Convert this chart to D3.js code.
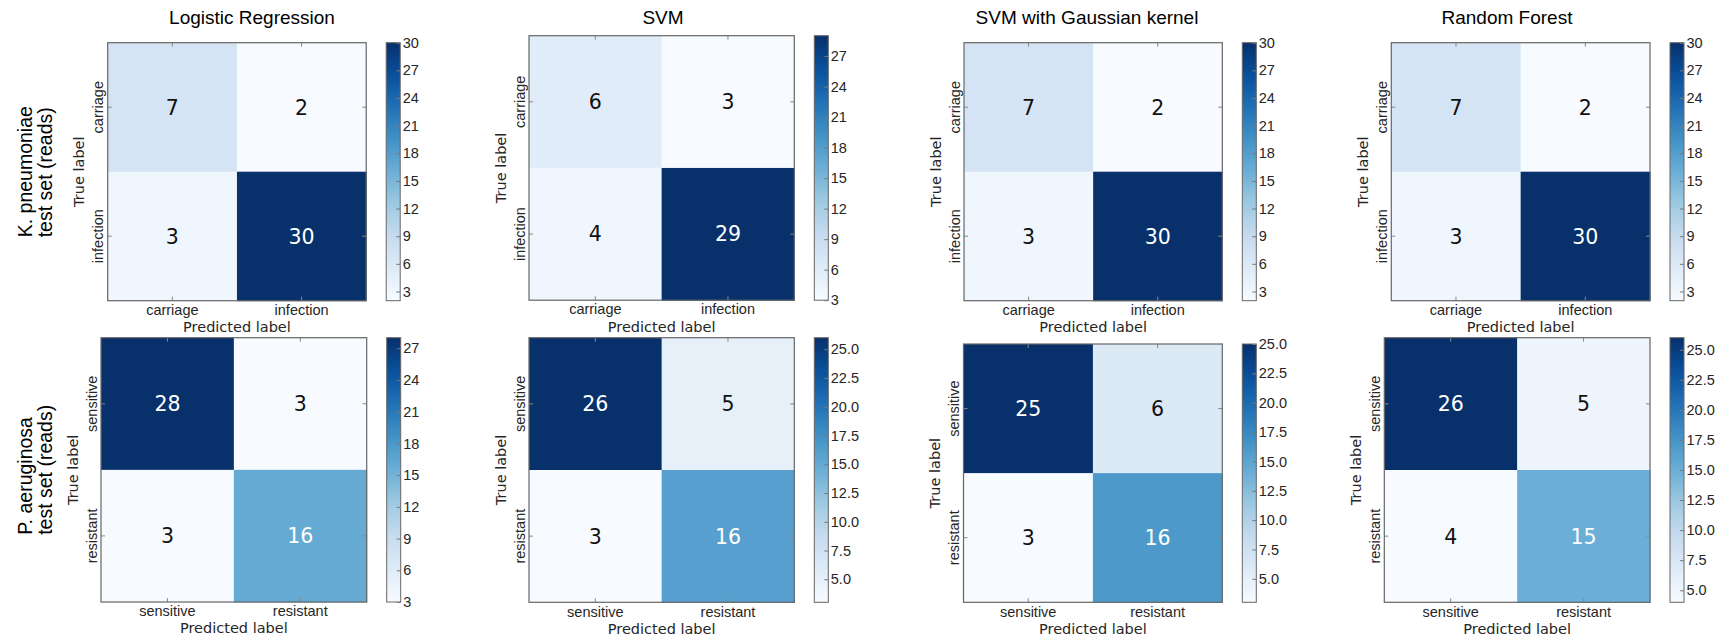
<!DOCTYPE html>
<html>
<head>
<meta charset="utf-8">
<script src="https://cdn.jsdelivr.net/npm/d3@7"></script>
<style>
  body { margin: 0; background: #fff; }
  text { fill: #262626; }
</style>
</head>
<body>
<div id="chart"></div>
<script>
// Constantes
const width = 1729;
const height = 642;

// Datos
const models = ["Logistic Regression", "SVM", "SVM with Gaussian kernel", "Random Forest"];
const datasets = [
  ["K. pneumoniae", "test set (reads)"],
  ["P. aeruginosa", "test set (reads)"],
];
const kpnLabels = ["carriage", "infection"];
const paeLabels = ["sensitive", "resistant"];

const kpnMatrices = [
  [[7, 2], [3, 30]],
  [[6, 3], [4, 29]],
  [[7, 2], [3, 30]],
  [[7, 2], [3, 30]],
];
const paeMatrices = [
  [[28, 3], [3, 16]],
  [[26, 5], [3, 16]],
  [[25, 6], [3, 16]],
  [[26, 5], [4, 15]],
];

const kpnTicks = [
  [3, 6, 9, 12, 15, 18, 21, 24, 27, 30],
  [3, 6, 9, 12, 15, 18, 21, 24, 27],
  [3, 6, 9, 12, 15, 18, 21, 24, 27, 30],
  [3, 6, 9, 12, 15, 18, 21, 24, 27, 30],
];
const paeTicks = [
  [3, 6, 9, 12, 15, 18, 21, 24, 27],
  [5, 7.5, 10, 12.5, 15, 17.5, 20, 22.5, 25],
  [5, 7.5, 10, 12.5, 15, 17.5, 20, 22.5, 25],
  [5, 7.5, 10, 12.5, 15, 17.5, 20, 22.5, 25],
];
const paeTickFormat = ["d", ".1f", ".1f", ".1f"];

// Paleta "Blues" (matplotlib)
const blues = ["#f7fbff", "#deebf7", "#c6dbef", "#9ecae1", "#6baed6", "#4292c6", "#2171b5", "#08519c", "#08306b"];

// Posición de cada matriz (layout de la figura)
const boxes = [
  [
    { x: 107.7, y: 42.7, w: 258.5, h: 258 },
    { x: 529, y: 35.7, w: 265.3, h: 264.5 },
    { x: 964, y: 42.7, w: 258.3, h: 258 },
    { x: 1391.3, y: 42.7, w: 258.7, h: 258 },
  ],
  [
    { x: 101, y: 337.7, w: 265.7, h: 264.3 },
    { x: 529, y: 337.7, w: 265.3, h: 264.6 },
    { x: 963.5, y: 344, w: 258.8, h: 258.3 },
    { x: 1384.3, y: 337.7, w: 265.7, h: 264.6 },
  ],
];
const titleX = [252, 663, 1087, 1507];

const svg = d3
  .select("div#chart")
  .append("svg")
  .attr("width", width)
  .attr("height", height)
  .style("font-family", "'DejaVu Sans', sans-serif");
const defs = svg.append("defs");

// Títulos
svg
  .selectAll("text.title")
  .data(models)
  .join("text")
  .attr("class", "title")
  .attr("x", (d, i) => titleX[i])
  .attr("y", 24)
  .attr("text-anchor", "middle")
  .style("font-family", "'Liberation Sans', Arial, sans-serif")
  .style("font-size", "19px")
  .style("fill", "#000")
  .text((d) => d);

// Pinta una matriz de confusión con su barra de color
const paintPanel = (row, col, matrix, labels, ticks, fmt) => {
  const box = boxes[row][col];
  const id = `p${row}${col}`;
  const values = matrix.flat();
  const vmin = d3.min(values);
  const vmax = d3.max(values);
  const thresh = vmax / 2;

  const color = d3
    .scaleLinear()
    .domain(blues.map((c, i) => vmin + (i / (blues.length - 1)) * (vmax - vmin)))
    .range(blues)
    .interpolate(d3.interpolateRgb);

  const x = d3.scaleBand().domain(labels).range([0, box.w]);
  const y = d3.scaleBand().domain(labels).range([0, box.h]);

  const g = svg.append("g").attr("transform", `translate(${box.x},${box.y})`);

  const cells = matrix.flatMap((r, i) => r.map((v, j) => ({ t: labels[i], p: labels[j], v })));

  g.selectAll("rect.cell")
    .data(cells)
    .join("rect")
    .attr("class", "cell")
    .attr("x", (d) => x(d.p))
    .attr("y", (d) => y(d.t))
    .attr("width", x.bandwidth() + 0.5)
    .attr("height", y.bandwidth() + 0.5)
    .attr("fill", (d) => color(d.v));

  g.selectAll("text.num")
    .data(cells)
    .join("text")
    .attr("class", "num")
    .attr("x", (d) => x(d.p) + x.bandwidth() / 2)
    .attr("y", (d) => y(d.t) + y.bandwidth() / 2)
    .attr("text-anchor", "middle")
    .attr("dy", "0.36em")
    .style("font-size", "20.5px")
    .style("fill", (d) => (d.v > thresh ? "#fff" : "#111"))
    .text((d) => d.v);

  // Ejes
  const xAxis = g
    .append("g")
    .attr("transform", `translate(0,${box.h})`)
    .call(d3.axisBottom(x).tickSizeInner(-4).tickSizeOuter(0).tickPadding(4));
  g.append("g").call(d3.axisTop(x).tickSizeInner(-4).tickSizeOuter(0).tickFormat(""));
  const yAxis = g.append("g").call(d3.axisLeft(y).tickSizeInner(-4).tickSizeOuter(0));
  g.append("g")
    .attr("transform", `translate(${box.w},0)`)
    .call(d3.axisRight(y).tickSizeInner(-4).tickSizeOuter(0).tickFormat(""));
  g.selectAll(".domain").remove();
  g.selectAll(".tick line").attr("stroke", "#888");
  xAxis.selectAll("text").style("font-size", "14.5px").style("fill", "#262626");
  yAxis
    .selectAll("text")
    .attr("transform", "rotate(-90)")
    .attr("x", 0)
    .attr("y", -4.5)
    .attr("dy", 0)
    .attr("text-anchor", "middle")
    .style("font-size", "14.5px")
    .style("fill", "#262626");

  g.append("rect")
    .attr("width", box.w)
    .attr("height", box.h)
    .attr("fill", "none")
    .attr("stroke", "#666")
    .attr("stroke-width", 1.2);

  // Etiquetas de eje
  g.append("text")
    .attr("x", box.w / 2)
    .attr("y", box.h + 31.5)
    .attr("text-anchor", "middle")
    .style("font-size", "14.5px")
    .text("Predicted label");
  g.append("text")
    .attr("transform", `translate(-23.5,${box.h / 2}) rotate(-90)`)
    .attr("text-anchor", "middle")
    .style("font-size", "14.5px")
    .text("True label");

  // Barra de color
  const cbX = box.w + 20;
  const cbW = 14;
  const grad = defs
    .append("linearGradient")
    .attr("id", `grad-${id}`)
    .attr("x1", 0)
    .attr("y1", 1)
    .attr("x2", 0)
    .attr("y2", 0);
  grad
    .selectAll("stop")
    .data(d3.range(0, 1.0001, 0.05))
    .join("stop")
    .attr("offset", (t) => t)
    .attr("stop-color", (t) => color(vmin + t * (vmax - vmin)));

  const cb = g.append("g").attr("transform", `translate(${cbX},0)`);
  cb.append("rect")
    .attr("width", cbW)
    .attr("height", box.h)
    .attr("fill", `url(#grad-${id})`)
    .attr("stroke", "#666")
    .attr("stroke-width", 1);

  const cbScale = d3.scaleLinear().domain([vmin, vmax]).range([box.h, 0]);
  const cbAxis = cb
    .append("g")
    .attr("transform", `translate(${cbW},0)`)
    .call(d3.axisRight(cbScale).tickValues(ticks).tickFormat(d3.format(fmt)).tickSizeInner(-4).tickSizeOuter(0).tickPadding(2.5));
  cbAxis.select(".domain").remove();
  cbAxis.selectAll(".tick line").attr("stroke", "#777");
  cbAxis.selectAll("text").style("font-size", "14.5px").style("fill", "#262626");
};

models.forEach((m, i) => {
  paintPanel(0, i, kpnMatrices[i], kpnLabels, kpnTicks[i], "d");
  paintPanel(1, i, paeMatrices[i], paeLabels, paeTicks[i], paeTickFormat[i]);
});

// Etiquetas de fila (conjunto de datos)
datasets.forEach((lines, r) => {
  const box = boxes[r][0];
  const cy = box.y + box.h / 2;
  const grp = svg.append("g");
  const texts = grp
    .selectAll("text")
    .data(lines)
    .join("text")
    .style("font-family", "'Liberation Sans', Arial, sans-serif")
    .style("font-size", "19.5px")
    .style("fill", "#000")
    .text((d) => d);
  const maxLen = d3.max(texts.nodes(), (n) => n.getComputedTextLength());
  texts.attr("transform", (d, i) => `translate(${32 + i * 19.7},${cy + maxLen / 2}) rotate(-90)`);
});
</script>
</body>
</html>
